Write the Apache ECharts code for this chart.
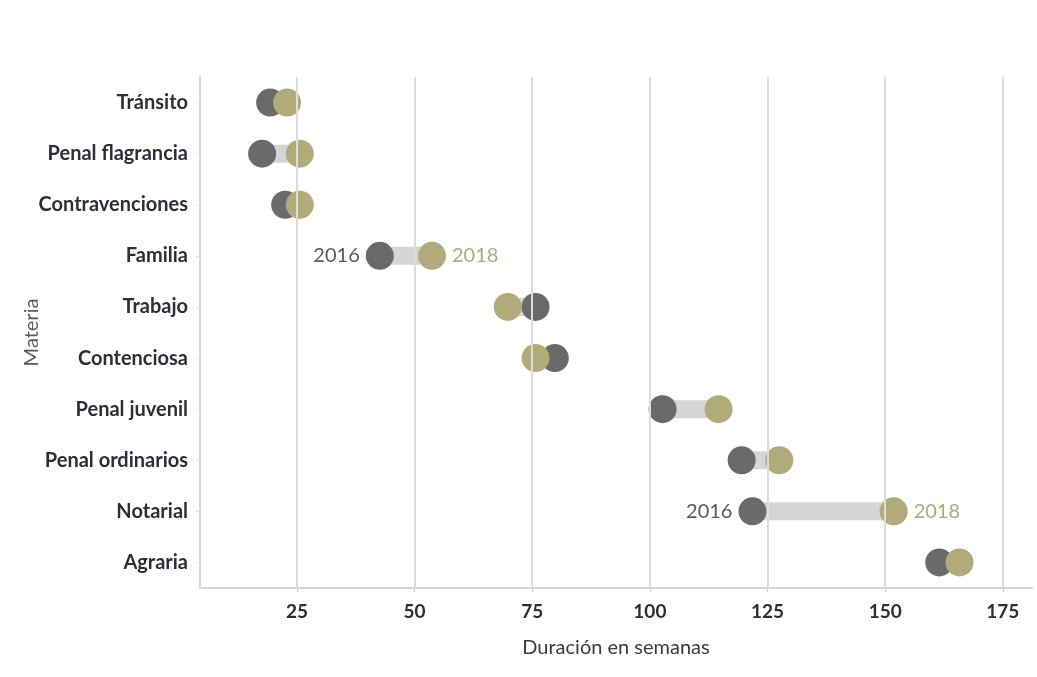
<!DOCTYPE html>
<html><head><meta charset="utf-8">
<script src="https://cdn.jsdelivr.net/npm/echarts@6/dist/echarts.min.js"></script>
<style>html,body{margin:0;padding:0;background:#fff}#c{width:1037px;height:677px}</style>
</head><body><div id="c"></div>
<script>
const categories = ['Tránsito','Penal flagrancia','Contravenciones','Familia','Trabajo','Contenciosa','Penal juvenil','Penal ordinarios','Notarial','Agraria'];
const values2016 = [19.3, 17.6, 22.5, 42.6, 75.7, 79.8, 102.7, 119.5, 121.8, 161.5];
const values2018 = [22.9, 25.6, 25.6, 53.7, 69.8, 75.7, 114.6, 127.5, 151.8, 165.8];
const xTicks = [25, 50, 75, 100, 125, 150, 175];
const labeledRows = ['Familia', 'Notarial'];

const FONT = 'Lato';
const GRAY = '#6a6a6a', GOLD = '#b1ab79', BAR = '#d5d5d5';

const chart = echarts.init(document.getElementById('c'));
const mkDots = (vals, color, yearLabel, pos) => vals.map((v, i) => ({
  value: [v, categories[i]],
  label: labeledRows.includes(categories[i]) ? {
    show: true, position: pos, formatter: yearLabel, color: color === GRAY ? '#5a5a5a' : color,
    fontFamily: FONT, fontSize: 20, distance: 6
  } : {show: false}
}));

chart.setOption({
  animation: false,
  grid: {left: 200, right: 5, top: 77, bottom: 89},
  xAxis: {
    type: 'value', min: 4.4, max: 181.2,
    name: 'Duración en semanas', nameLocation: 'middle', nameGap: 50,
    nameTextStyle: {fontFamily: FONT, fontSize: 20, color: '#3a3a3a'},
    axisLine: {show: true, lineStyle: {color: '#d6d6d6', width: 2}},
    axisTick: {show: true, length: 4, customValues: xTicks, lineStyle: {color: '#ccc'}},
    axisLabel: {customValues: xTicks, fontFamily: FONT, fontSize: 19, fontWeight: 'bold', color: '#2e2e2e', margin: 14},
    splitLine: {show: false}
  },
  yAxis: {
    type: 'category', data: categories, inverse: true,
    name: 'Materia', nameLocation: 'middle', nameGap: 158, nameRotate: 90, nameMoveOverlap: false,
    nameTextStyle: {fontFamily: FONT, fontSize: 20, color: '#5a5a5a'},
    axisLine: {show: true, lineStyle: {color: '#d6d6d6', width: 2}},
    axisTick: {show: true, alignWithLabel: true, length: 4, lineStyle: {color: '#ddd'}},
    axisLabel: {fontFamily: FONT, fontSize: 20, fontWeight: 'bold', color: '#2e2e3a', margin: 12}
  },
  series: [
    {
      type: 'custom',
      data: categories.map((c, i) => [values2016[i], values2018[i], i]),
      renderItem: function (params, api) {
        const a = api.coord([api.value(0), api.value(2)]);
        const b = api.coord([api.value(1), api.value(2)]);
        const x0 = Math.min(a[0], b[0]), x1 = Math.max(a[0], b[0]);
        return {type: 'rect', shape: {x: x0, y: a[1] - 9, width: x1 - x0, height: 18},
                style: {fill: BAR}};
      },
      markLine: {
        silent: true, symbol: 'none', label: {show: false},
        lineStyle: {color: '#dcdcdc', width: 2, type: 'solid'},
        data: xTicks.map(t => ({xAxis: t}))
      },
      z: 1
    },
    {type: 'scatter', name: '2016', symbolSize: 28, itemStyle: {color: GRAY, opacity: 1},
     data: mkDots(values2016, GRAY, '2016', 'left'), z: 2},
    {type: 'scatter', name: '2018', symbolSize: 28, itemStyle: {color: GOLD, opacity: 1},
     data: mkDots(values2018, GOLD, '2018', 'right'), z: 3}
  ]
});
</script></body></html>
